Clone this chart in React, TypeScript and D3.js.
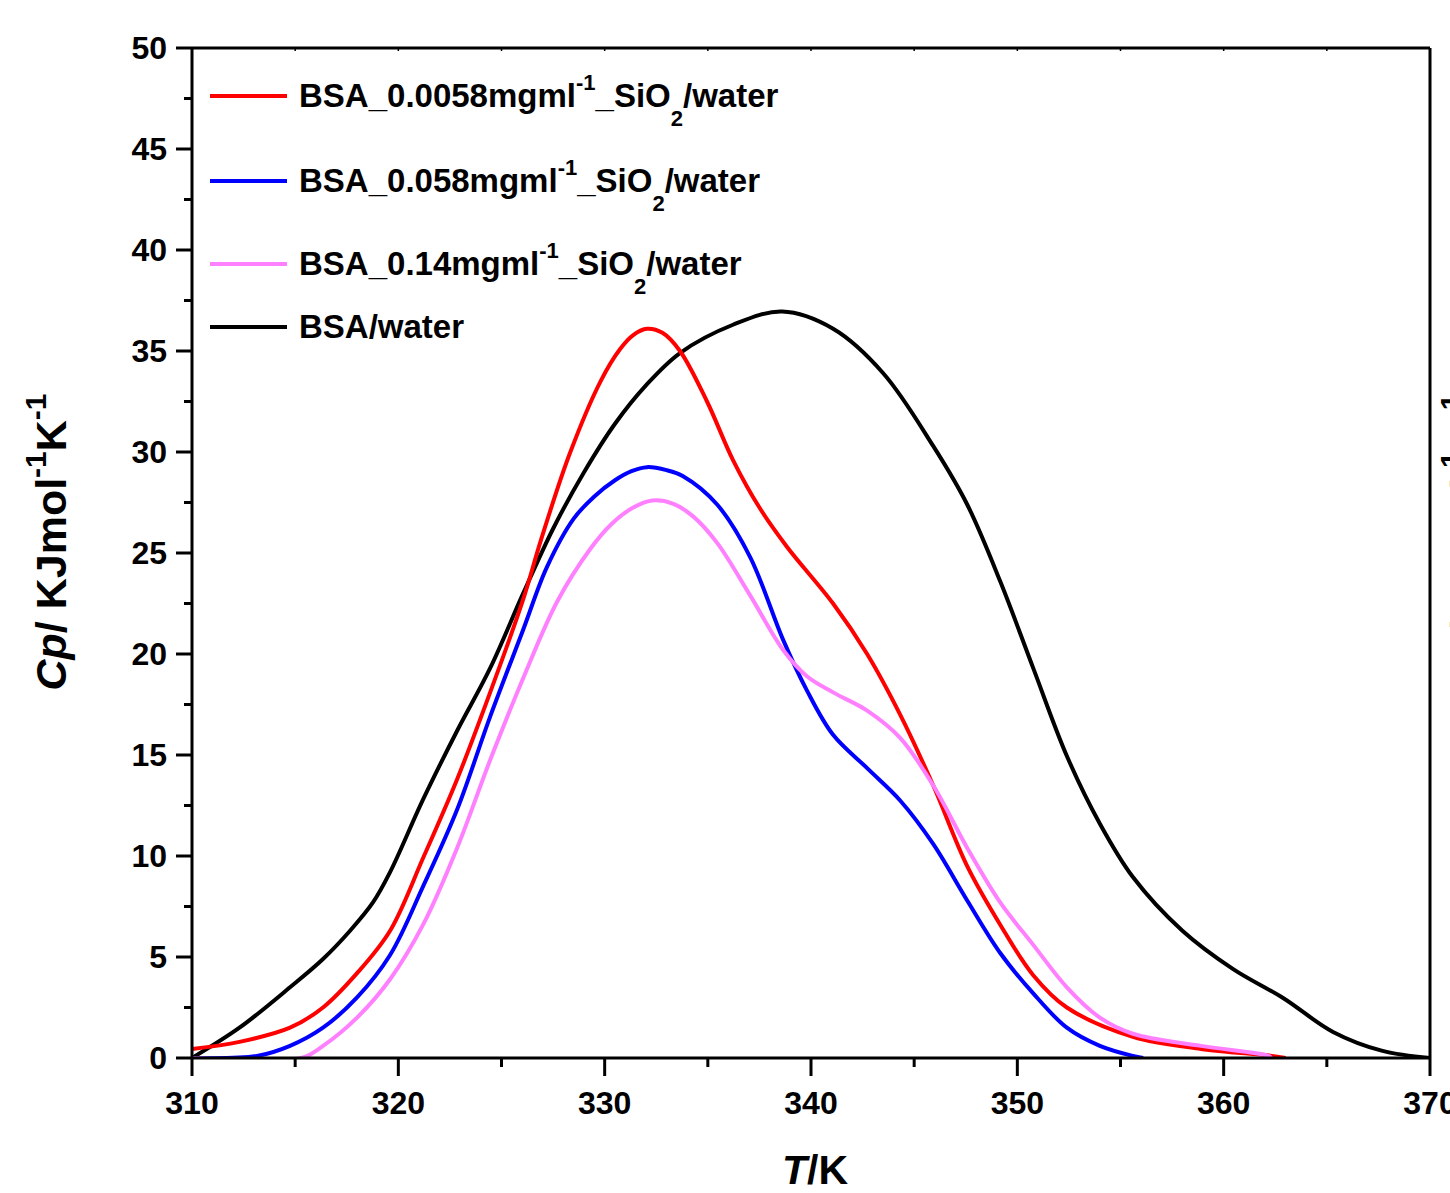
import React from 'react';
import * as d3 from 'd3';

const W = 1450;
const H = 1193;
const PL = 192, PR = 1430, PT = 48, PB = 1058;

const xMajor = [310, 320, 330, 340, 350, 360, 370];
const xMinor = [315, 325, 335, 345, 355, 365];
const yMajor = [0, 5, 10, 15, 20, 25, 30, 35, 40, 45, 50];
const yMinor = [2.5, 7.5, 12.5, 17.5, 22.5, 27.5, 32.5, 37.5, 42.5, 47.5];

// BSA/water (black)
const tBlack = [310, 312.3, 314.75, 316.35, 317.66, 318.77, 319.6, 321.2, 322.85, 324.45, 326.05, 327.5, 329.0, 330.5, 332.0, 333.65, 336.22, 338.6, 341.07, 343.5, 345.92, 347.57, 349.17, 350.77, 352.4, 354.0, 355.6, 358.0, 360.46, 362.88, 365.3, 367.7, 370];
const vBlack = [0, 1.5, 3.5, 4.9, 6.3, 7.7, 9.2, 12.8, 16.2, 19.3, 23.0, 26.2, 29.0, 31.4, 33.3, 34.9, 36.3, 36.95, 36.1, 33.9, 30.3, 27.4, 23.6, 19.3, 14.95, 11.6, 8.96, 6.3, 4.4, 2.97, 1.29, 0.35, 0];

// BSA_0.0058 (red)
const tRed = [310, 312.3, 314.75, 316.35, 318.0, 319.6, 321.2, 322.85, 324.45, 326.05, 326.9, 328.3, 329.8, 330.75, 331.4, 332.05, 332.8, 333.65, 334.96, 336.22, 337.53, 338.84, 341.07, 342.72, 344.32, 345.92, 347.57, 349.17, 350.77, 352.4, 355.6, 358.9, 362.2, 363];
const vRed = [0.45, 0.8, 1.5, 2.5, 4.2, 6.3, 9.9, 13.8, 18.1, 22.7, 25.6, 29.9, 33.5, 35.1, 35.8, 36.1, 35.9, 35.0, 32.5, 29.6, 27.2, 25.3, 22.5, 20.0, 17.0, 13.5, 9.5, 6.6, 4.1, 2.5, 1.05, 0.45, 0.12, 0];

// BSA_0.058 (blue)
const tBlue = [310, 313.15, 314.75, 316.35, 318.0, 319.6, 321.2, 322.85, 324.45, 326.05, 327.2, 328.5, 329.5, 330.5, 331.3, 332.05, 333.0, 333.8, 335.45, 337.05, 338.65, 339.8, 341.07, 342.72, 344.32, 345.92, 347.57, 349.17, 350.77, 352.4, 354.0, 355.6, 356.1];
const vBlue = [0, 0.1, 0.6, 1.5, 3.0, 5.1, 8.5, 12.3, 16.9, 21.2, 24.3, 26.7, 27.8, 28.6, 29.05, 29.25, 29.1, 28.8, 27.4, 24.8, 20.7, 18.2, 16.0, 14.35, 12.75, 10.6, 7.8, 5.2, 3.2, 1.5, 0.6, 0.1, 0];

// BSA_0.14 (pink)
const tPink = [310, 315.3, 316.35, 318.0, 319.6, 321.2, 322.85, 324.45, 326.05, 327.7, 329.3, 330.3, 331.3, 332.3, 333.3, 334.3, 335.45, 337.05, 338.65, 339.8, 341.07, 342.72, 344.32, 345.92, 347.57, 349.17, 350.77, 352.4, 354.0, 355.6, 358.9, 362.2, 362.3];
const vPink = [0, 0, 0.6, 2.0, 3.9, 6.6, 10.4, 14.75, 18.8, 22.6, 25.2, 26.4, 27.2, 27.6, 27.45, 26.8, 25.5, 22.9, 20.2, 18.9, 18.1, 17.2, 15.85, 13.5, 10.4, 7.7, 5.6, 3.5, 2.0, 1.2, 0.6, 0.1, 0];

const seriesConc = ['0.0058', '0.058', '0.14'];
const seriesColors = ['#FF0000', '#0000FF', '#FF80FF', '#000000'];

const FONT = '"Liberation Sans", Arial, Helvetica, sans-serif';

export default function App() {
  const x = d3.scaleLinear().domain([310, 370]).range([PL, PR]);
  const y = d3.scaleLinear().domain([0, 50]).range([PB, PT]);
  const line = d3.line<[number, number]>()
    .x(d => x(d[0]))
    .y(d => y(d[1]))
    .curve(d3.curveCatmullRom.alpha(0.5));

  const zip = (t: number[], v: number[]) => t.map((tt, i) => [tt, v[i]] as [number, number]);
  const curves = [
    { data: zip(tBlack, vBlack), color: seriesColors[3] },
    { data: zip(tRed, vRed), color: seriesColors[0] },
    { data: zip(tBlue, vBlue), color: seriesColors[1] },
    { data: zip(tPink, vPink), color: seriesColors[2] },
  ];

  const legendY = [96, 181, 264, 327];

  const yTitle = (tx: number) => (
    <text transform={`translate(${tx},542) rotate(-90)`} textAnchor="middle" fontFamily={FONT} fontWeight="bold" fontSize={43} fill="#000">
      <tspan fontStyle="italic">Cp</tspan>
      <tspan>/ KJmol</tspan>
      <tspan fontSize={30} dy={-20}>-1</tspan>
      <tspan fontSize={43} dy={20}>K</tspan>
      <tspan fontSize={30} dy={-20}>-1</tspan>
    </text>
  );

  return (
    <svg width={W} height={H} style={{ position: 'absolute', left: 0, top: 0, background: '#fff' }} xmlns="http://www.w3.org/2000/svg">
      <defs>
        <clipPath id="plotClip">
          <rect x={PL} y={PT} width={PR - PL} height={PB - PT + 1} />
        </clipPath>
      </defs>
      <rect x={0} y={0} width={W} height={H} fill="#fff" />
      {/* curves */}
      <g fill="none" strokeWidth={4} strokeLinejoin="round" strokeLinecap="butt" clipPath="url(#plotClip)">
        {curves.map((c, i) => (
          <path key={i} d={line(c.data) || ''} stroke={c.color} />
        ))}
      </g>
      {/* frame */}
      <g stroke="#000" strokeWidth={3} fill="none">
        <line x1={PL} x2={PR} y1={PB} y2={PB} />
        <line x1={PL} x2={PR} y1={PT} y2={PT} />
        <line x1={PL} x2={PL} y1={PT} y2={PB} />
        <line x1={PR} x2={PR} y1={PT} y2={PB} />
        {xMajor.map(v => <line key={'xm' + v} x1={x(v)} x2={x(v)} y1={PB} y2={PB + 18} />)}
        {xMinor.map(v => <line key={'xn' + v} x1={x(v)} x2={x(v)} y1={PB} y2={PB + 9} />)}
        {yMajor.map(v => <line key={'ym' + v} x1={PL - 16} x2={PL} y1={y(v)} y2={y(v)} />)}
        {yMinor.map(v => <line key={'yn' + v} x1={PL - 8} x2={PL} y1={y(v)} y2={y(v)} />)}
        {xMajor.concat(xMinor).map(v => <line key={'xt' + v} x1={x(v)} x2={x(v)} y1={PT} y2={PT + 3} strokeWidth={1.5} />)}
      </g>
      {/* tick labels */}
      <g fontFamily={FONT} fontWeight="bold" fontSize={32} fill="#000">
        {xMajor.map(v => (
          <text key={'xl' + v} x={x(v)} y={1114} textAnchor="middle">{v}</text>
        ))}
        {yMajor.map(v => (
          <text key={'yl' + v} x={167} y={y(v) + 11} textAnchor="end">{v}</text>
        ))}
      </g>
      {/* axis titles */}
      <text x={815} y={1184} textAnchor="middle" fontFamily={FONT} fontWeight="bold" fontSize={41} fill="#000">
        <tspan fontStyle="italic">T</tspan>
        <tspan>/K</tspan>
      </text>
      {yTitle(66)}
      {yTitle(1481)}
      {/* legend */}
      <g fontFamily={FONT} fontWeight="bold" fill="#000">
        {legendY.map((ly, i) => (
          <g key={'lg' + i}>
            <line x1={210} x2={287} y1={ly} y2={ly} stroke={seriesColors[i]} strokeWidth={4} />
            {i < 3 ? (
              <text x={299} y={ly + 11} fontSize={33}>
                <tspan>{`BSA_${seriesConc[i]}mgml`}</tspan>
                <tspan fontSize={22} dy={-17}>-1</tspan>
                <tspan fontSize={33} dy={17}>_SiO</tspan>
                <tspan fontSize={22} dy={19}>2</tspan>
                <tspan fontSize={33} dy={-19}>/water</tspan>
              </text>
            ) : (
              <text x={299} y={ly + 11} fontSize={33}>BSA/water</text>
            )}
          </g>
        ))}
      </g>
    </svg>
  );
}
